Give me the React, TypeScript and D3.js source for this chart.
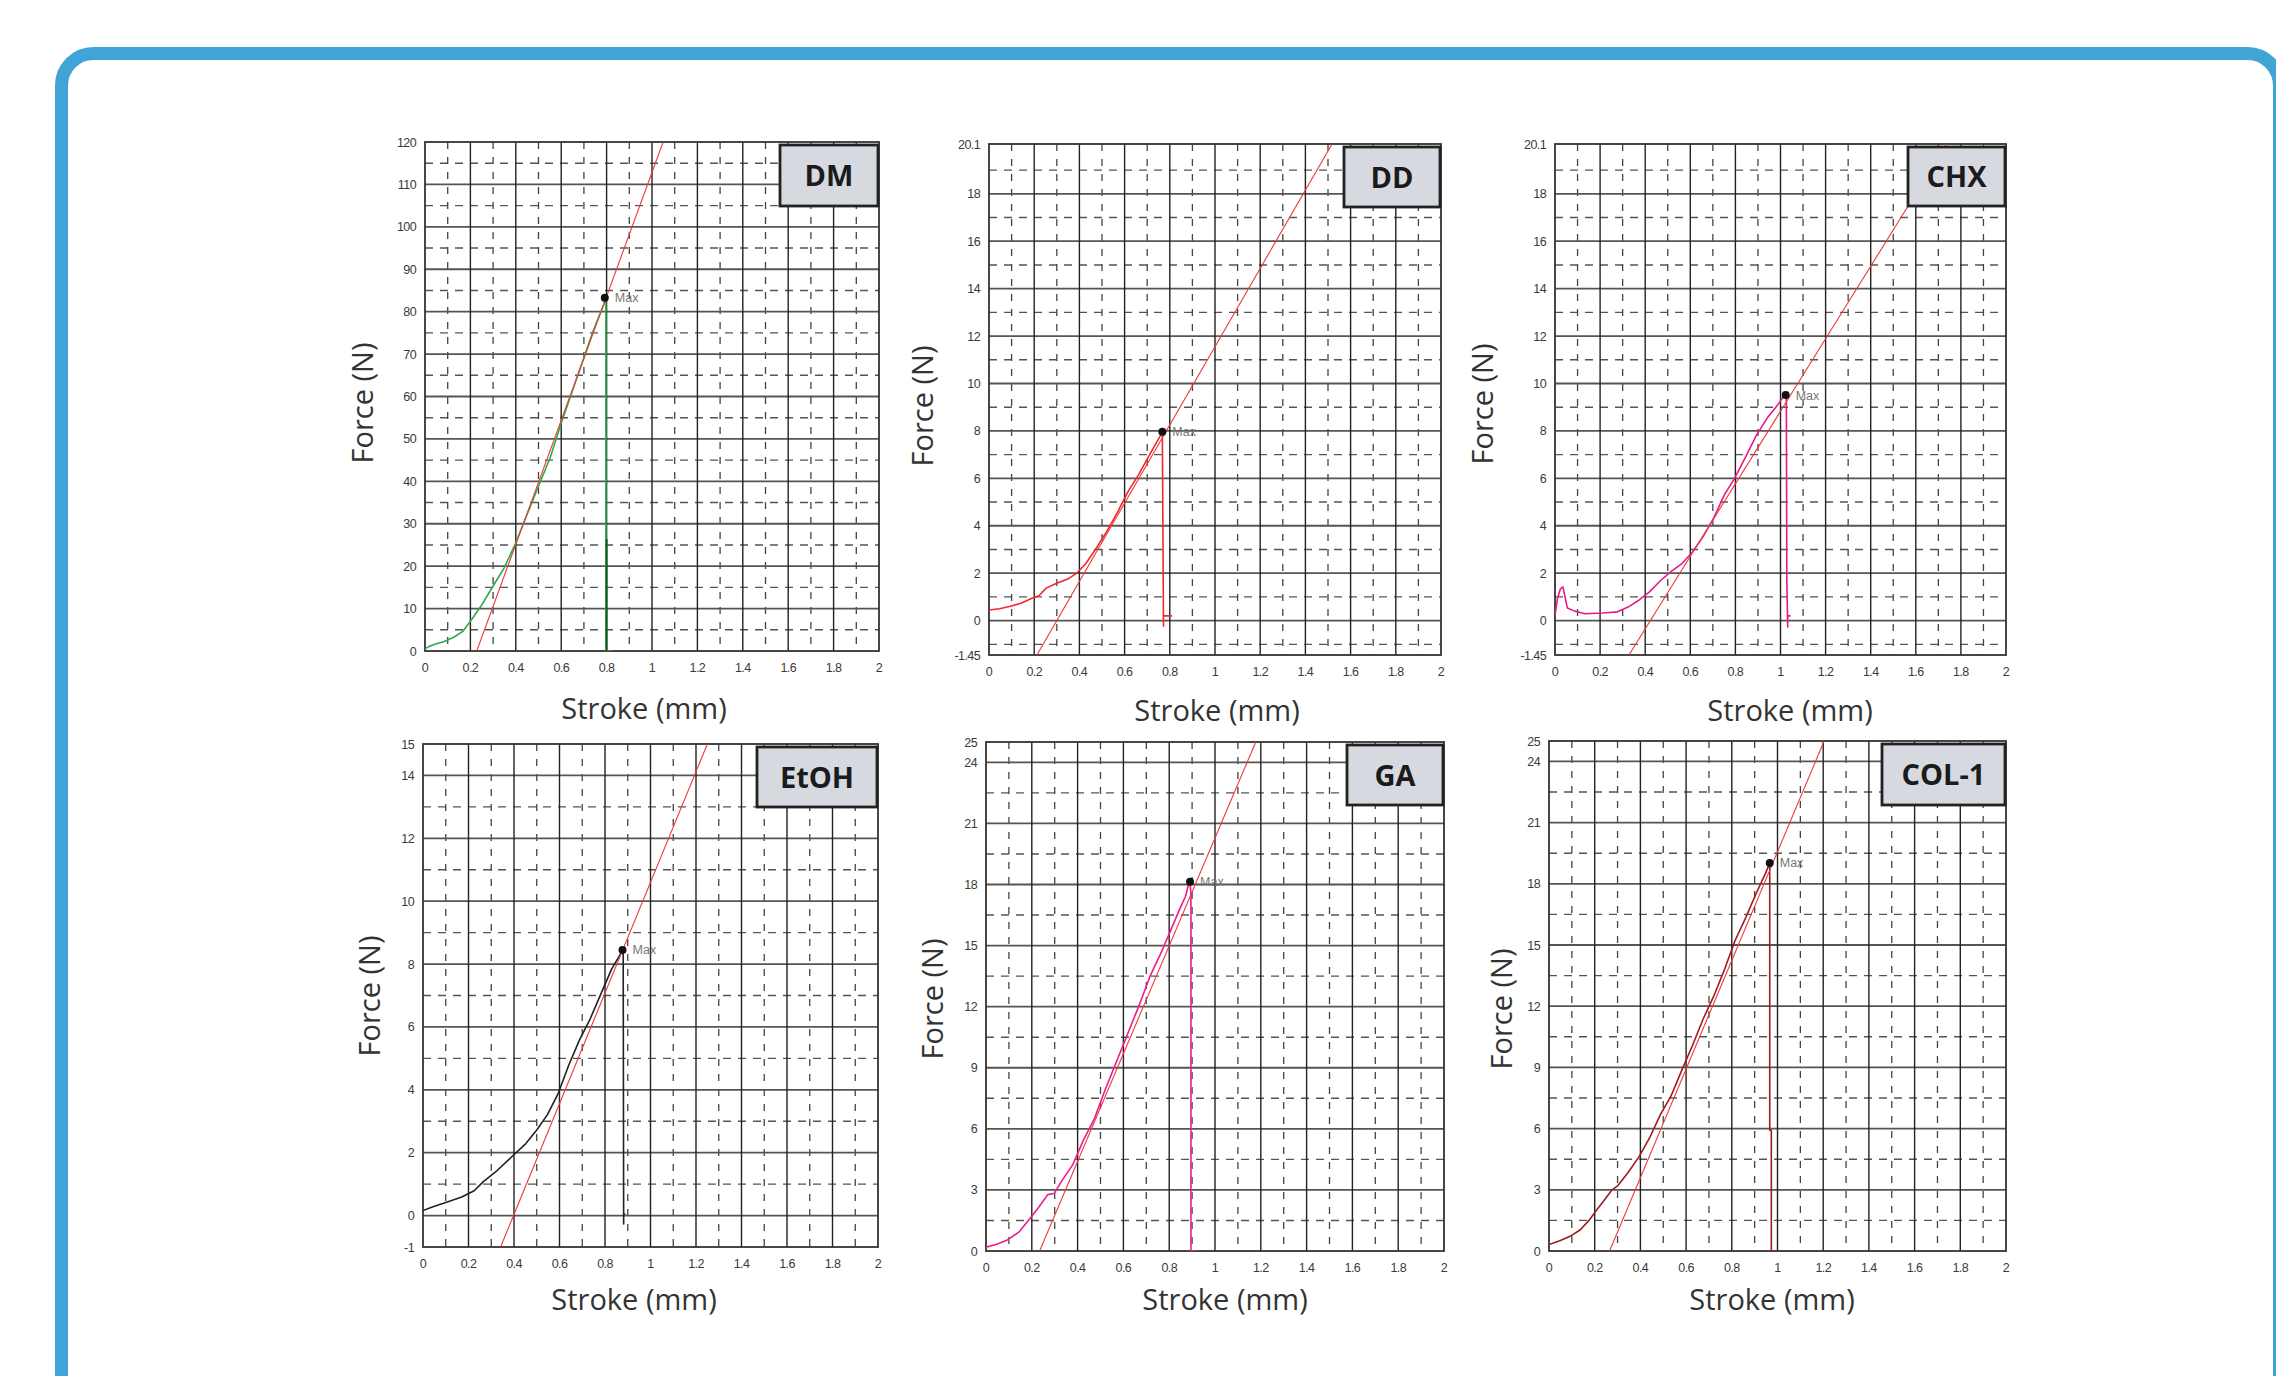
import React, { useEffect, useRef } from "react";
import * as d3 from "d3";

const W = 2276;
const H = 1376;

// stroke axis, the same on all six panels
const xLabels = [0, 0.2, 0.4, 0.6, 0.8, 1, 1.2, 1.4, 1.6, 1.8, 2];
const xMajor = [0.2, 0.4, 0.6, 0.8, 1, 1.2, 1.4, 1.6, 1.8];
const xMinor = [0.1, 0.3, 0.5, 0.7, 0.9, 1.1, 1.3, 1.5, 1.7, 1.9];

// DM
const dmYLabels = [0, 10, 20, 30, 40, 50, 60, 70, 80, 90, 100, 110, 120];
const dmYMajor = [10, 20, 30, 40, 50, 60, 70, 80, 90, 100, 110];
const dmYMinor = [5, 15, 25, 35, 45, 55, 65, 75, 85, 95, 105, 115];
const dmCurve = [
  [0, 0.5], [0.019, 1.1], [0.05, 1.7], [0.082, 2.2], [0.129, 3.3], [0.168, 4.7],
  [0.208, 7.6], [0.247, 10.6], [0.302, 15.5], [0.349, 19.6], [0.396, 25.0],
  [0.443, 31.3], [0.498, 38.6], [0.553, 45.8], [0.601, 53.9], [0.648, 61.1],
  [0.695, 68.4], [0.742, 75.6], [0.789, 81.9], [0.792, 83.3], [0.797, 82],
  [0.797, 0], [0.82, 0],
];
const dmDrop = [[0.8, 26.4], [0.8, 0]];
const dmFit = [[0.228, 0], [1.049, 120]];
const dmMax = [0.792, 83.3];

// DD
const ddYLabels = [-1.45, 0, 2, 4, 6, 8, 10, 12, 14, 16, 18, 20.1];
const ddYMajor = [0, 2, 4, 6, 8, 10, 12, 14, 16, 18];
const ddYMinor = [-1, 1, 3, 5, 7, 9, 11, 13, 15, 17, 19];
const ddCurve = [
  [0, 0.45], [0.047, 0.5], [0.095, 0.61], [0.142, 0.73], [0.19, 0.94],
  [0.221, 1.05], [0.253, 1.37], [0.3, 1.58], [0.348, 1.75], [0.387, 1.99],
  [0.427, 2.39], [0.474, 3.04], [0.522, 3.77], [0.569, 4.58], [0.617, 5.47],
  [0.664, 6.19], [0.711, 7.0], [0.759, 7.81], [0.767, 7.97], [0.772, -0.24],
  [0.772, 0.2], [0.81, 0.2],
];
const ddFit = [[0.212, -1.45], [1.518, 20.1]];
const ddMax = [0.767, 7.97];

// CHX
const chxYLabels = [-1.45, 0, 2, 4, 6, 8, 10, 12, 14, 16, 18, 20.1];
const chxYMajor = [0, 2, 4, 6, 8, 10, 12, 14, 16, 18];
const chxYMinor = [-1, 1, 3, 5, 7, 9, 11, 13, 15, 17, 19];
const chxCurve = [
  [0, 0.21], [0.011, 0.94], [0.024, 1.34], [0.035, 1.42], [0.044, 1.02],
  [0.055, 0.53], [0.087, 0.4], [0.134, 0.29], [0.213, 0.32], [0.277, 0.37],
  [0.324, 0.57], [0.372, 0.86], [0.419, 1.21], [0.466, 1.67], [0.514, 2.07],
  [0.561, 2.39], [0.609, 2.88], [0.656, 3.53], [0.704, 4.33], [0.751, 5.3],
  [0.798, 6.03], [0.846, 6.92], [0.893, 7.81], [0.941, 8.54], [0.988, 9.1],
  [1.012, 9.43], [1.023, 9.51], [1.026, 9.3], [1.028, 1.75], [1.032, -0.27],
  [1.032, 0.2], [1.045, 0.2],
];
const chxFit = [[0.328, -1.45], [1.737, 20.1]];
const chxMax = [1.023, 9.51];

// EtOH
const etohYLabels = [-1, 0, 2, 4, 6, 8, 10, 12, 14, 15];
const etohYMajor = [0, 2, 4, 6, 8, 10, 12, 14];
const etohYMinor = [1, 3, 5, 7, 9, 11, 13];
const etohCurve = [
  [0, 0.16], [0.044, 0.28], [0.107, 0.43], [0.17, 0.59], [0.225, 0.79],
  [0.264, 1.07], [0.327, 1.44], [0.39, 1.87], [0.452, 2.29], [0.5, 2.72],
  [0.547, 3.21], [0.594, 3.88], [0.641, 4.79], [0.688, 5.59], [0.735, 6.26],
  [0.782, 7.05], [0.829, 7.84], [0.869, 8.33], [0.877, 8.45], [0.88, 8.3],
  [0.882, -0.27], [0.882, 0.05], [0.89, 0.05],
];
const etohFit = [[0.341, -1], [1.25, 15]];
const etohMax = [0.877, 8.45];

// GA
const gaYLabels = [0, 3, 6, 9, 12, 15, 18, 21, 24, 25];
const gaYMajor = [3, 6, 9, 12, 15, 18, 21, 24];
const gaYMinor = [1.5, 4.5, 7.5, 10.5, 13.5, 16.5, 19.5, 22.5];
const gaCurve = [
  [0, 0.19], [0.044, 0.32], [0.091, 0.53], [0.145, 0.94], [0.192, 1.6],
  [0.231, 2.16], [0.27, 2.77], [0.297, 2.82], [0.333, 3.48], [0.379, 4.24],
  [0.426, 5.46], [0.473, 6.49], [0.52, 7.91], [0.567, 9.22], [0.621, 10.73],
  [0.668, 12.05], [0.715, 13.46], [0.762, 14.59], [0.809, 15.81], [0.848, 16.85],
  [0.871, 17.41], [0.884, 17.98], [0.891, 18.13], [0.895, 17.5], [0.895, 0],
  [0.92, 0],
];
const gaFit = [[0.234, 0], [1.178, 25]];
const gaMax = [0.891, 18.13];

// COL-1
const colYLabels = [0, 3, 6, 9, 12, 15, 18, 21, 24, 25];
const colYMajor = [3, 6, 9, 12, 15, 18, 21, 24];
const colYMinor = [1.5, 4.5, 7.5, 10.5, 13.5, 16.5, 19.5, 22.5];
const colCurve = [
  [0, 0.32], [0.05, 0.51], [0.097, 0.75], [0.136, 1.03], [0.175, 1.5],
  [0.206, 1.97], [0.245, 2.54], [0.276, 3.0], [0.3, 3.19], [0.346, 3.85],
  [0.393, 4.6], [0.44, 5.54], [0.487, 6.67], [0.534, 7.6], [0.58, 8.83],
  [0.627, 10.05], [0.674, 11.36], [0.721, 12.49], [0.768, 13.8], [0.814, 15.21],
  [0.861, 16.34], [0.908, 17.56], [0.947, 18.5], [0.966, 19.02], [0.966, 18.5],
  [0.966, 5.92], [0.973, 5.92], [0.973, 0], [0.99, 0],
];
const colFit = [[0.265, 0], [1.204, 25]];
const colMax = [0.966, 19.02];

const panels = [
  { name: "DM", color: "#2BAA4C", curve: dmCurve, drop: dmDrop, fit: dmFit, max: dmMax,
    yDomain: [0, 120], yLabels: dmYLabels, yMajor: dmYMajor, yMinor: dmYMinor,
    left: 425, right: 879, top: 142, bottom: 651, boxW: 98, boxH: 61,
    forceX: 363, forceY: 403, strokeX: 644, strokeY: 709 },
  { name: "DD", color: "#EE2A2E", curve: ddCurve, fit: ddFit, max: ddMax,
    yDomain: [-1.45, 20.1], yLabels: ddYLabels, yMajor: ddYMajor, yMinor: ddYMinor,
    left: 989, right: 1441, top: 144, bottom: 655, boxW: 96, boxH: 60,
    forceX: 923, forceY: 406, strokeX: 1217, strokeY: 711 },
  { name: "CHX", color: "#E8198B", curve: chxCurve, fit: chxFit, max: chxMax,
    yDomain: [-1.45, 20.1], yLabels: chxYLabels, yMajor: chxYMajor, yMinor: chxYMinor,
    left: 1555, right: 2006, top: 144, bottom: 655, boxW: 97, boxH: 59,
    forceX: 1483, forceY: 404, strokeX: 1790, strokeY: 711 },
  { name: "EtOH", color: "#222222", curve: etohCurve, fit: etohFit, max: etohMax,
    yDomain: [-1, 15], yLabels: etohYLabels, yMajor: etohYMajor, yMinor: etohYMinor,
    left: 423, right: 878, top: 744, bottom: 1247, boxW: 120, boxH: 60,
    forceX: 370, forceY: 996, strokeX: 634, strokeY: 1300 },
  { name: "GA", color: "#EC1C8E", curve: gaCurve, fit: gaFit, max: gaMax,
    yDomain: [0, 25], yLabels: gaYLabels, yMajor: gaYMajor, yMinor: gaYMinor,
    left: 986, right: 1444, top: 742, bottom: 1251, boxW: 96, boxH: 60,
    forceX: 933, forceY: 999, strokeX: 1225, strokeY: 1300 },
  { name: "COL-1", color: "#9E1B22", curve: colCurve, fit: colFit, max: colMax,
    yDomain: [0, 25], yLabels: colYLabels, yMajor: colYMajor, yMinor: colYMinor,
    left: 1549, right: 2006, top: 741, bottom: 1251, boxW: 123, boxH: 61,
    forceX: 1502, forceY: 1009, strokeX: 1772, strokeY: 1300 },
];

function fmt(v) {
  return String(v);
}

function App() {
  const svgRef = useRef(null);

  useEffect(() => {
    const svg = d3.select(svgRef.current);
    svg.selectAll("*").remove();

    svg.append("rect").attr("width", W).attr("height", H).attr("fill", "#ffffff");

    // blue rounded frame, runs off the bottom of the page
    svg
      .append("rect")
      .attr("x", 61.5)
      .attr("y", 53.5)
      .attr("width", 2218)
      .attr("height", 1600)
      .attr("rx", 32)
      .attr("fill", "none")
      .attr("stroke", "#40A4D6")
      .attr("stroke-width", 13);

    panels.forEach((p, i) => {
      const g = svg.append("g");
      const x = d3.scaleLinear().domain([0, 2]).range([p.left, p.right]);
      const y = d3.scaleLinear().domain(p.yDomain).range([p.bottom, p.top]);

      const clipId = "clip" + i;
      svg
        .append("clipPath")
        .attr("id", clipId)
        .append("rect")
        .attr("x", p.left)
        .attr("y", p.top)
        .attr("width", p.right - p.left)
        .attr("height", p.bottom - p.top);

      // dashed minor grid
      g.append("g")
        .selectAll("line")
        .data(p.yMinor)
        .join("line")
        .attr("x1", p.left)
        .attr("x2", p.right)
        .attr("y1", (d) => y(d))
        .attr("y2", (d) => y(d))
        .attr("stroke", "#555")
        .attr("stroke-width", 1.4)
        .attr("stroke-dasharray", "8,7");
      g.append("g")
        .selectAll("line")
        .data(xMinor)
        .join("line")
        .attr("x1", (d) => x(d))
        .attr("x2", (d) => x(d))
        .attr("y1", p.top)
        .attr("y2", p.bottom)
        .attr("stroke", "#444")
        .attr("stroke-width", 1.3)
        .attr("stroke-dasharray", "7,8");

      // solid major grid
      g.append("g")
        .selectAll("line")
        .data(p.yMajor)
        .join("line")
        .attr("x1", p.left)
        .attr("x2", p.right)
        .attr("y1", (d) => y(d))
        .attr("y2", (d) => y(d))
        .attr("stroke", "#555")
        .attr("stroke-width", 1.8);
      g.append("g")
        .selectAll("line")
        .data(xMajor)
        .join("line")
        .attr("x1", (d) => x(d))
        .attr("x2", (d) => x(d))
        .attr("y1", p.top)
        .attr("y2", p.bottom)
        .attr("stroke", "#222")
        .attr("stroke-width", 1.4);

      g.append("rect")
        .attr("x", p.left)
        .attr("y", p.top)
        .attr("width", p.right - p.left)
        .attr("height", p.bottom - p.top)
        .attr("fill", "none")
        .attr("stroke", "#333")
        .attr("stroke-width", 1.8);

      const line = d3
        .line()
        .x((d) => x(d[0]))
        .y((d) => y(d[1]));

      const plot = g.append("g").attr("clip-path", `url(#${clipId})`);
      plot
        .append("path")
        .attr("d", line(p.curve))
        .attr("fill", "none")
        .attr("stroke", p.color)
        .attr("stroke-width", 1.6)
        .attr("stroke-linejoin", "round");
      if (p.drop) {
        plot
          .append("path")
          .attr("d", line(p.drop))
          .attr("fill", "none")
          .attr("stroke", "#0C5E25")
          .attr("stroke-width", 2);
      }
      plot
        .append("path")
        .attr("d", line(p.fit))
        .attr("fill", "none")
        .attr("stroke", "#EC3A3A")
        .attr("stroke-width", 1.1);

      // max marker
      g.append("circle")
        .attr("cx", x(p.max[0]))
        .attr("cy", y(p.max[1]))
        .attr("r", 4)
        .attr("fill", "#111");
      g.append("text")
        .attr("x", x(p.max[0]) + 10)
        .attr("y", y(p.max[1]) + 4.5)
        .attr("font-family", "Liberation Sans, Arial, sans-serif")
        .attr("font-size", 12.5)
        .attr("fill", "#777")
        .text("Max");

      // sample label box
      g.append("rect")
        .attr("x", p.right - 1 - p.boxW)
        .attr("y", p.top + 3)
        .attr("width", p.boxW)
        .attr("height", p.boxH)
        .attr("fill", "#D6D9E0")
        .attr("stroke", "#222")
        .attr("stroke-width", 2.8);
      g.append("text")
        .attr("x", p.right - 1 - p.boxW / 2)
        .attr("y", p.top + 3 + p.boxH / 2 + 10.5)
        .attr("text-anchor", "middle")
        .attr("font-family", "Open Sans, sans-serif")
        .attr("font-weight", 700)
        .attr("font-size", 29)
        .attr("fill", "#1b1b1b")
        .text(p.name);

      // tick labels
      g.append("g")
        .selectAll("text")
        .data(p.yLabels)
        .join("text")
        .attr("x", p.left - 9)
        .attr("y", (d) => y(d) + 4.5)
        .attr("text-anchor", "end")
        .attr("font-family", "Liberation Sans, Arial, sans-serif")
        .attr("font-size", 12.5)
        .attr("letter-spacing", -0.6)
        .attr("fill", "#3a3a3a")
        .text((d) => fmt(d));
      g.append("g")
        .selectAll("text")
        .data(xLabels)
        .join("text")
        .attr("x", (d) => x(d))
        .attr("y", p.bottom + 21)
        .attr("text-anchor", "middle")
        .attr("font-family", "Liberation Sans, Arial, sans-serif")
        .attr("font-size", 12.5)
        .attr("letter-spacing", -0.6)
        .attr("fill", "#3a3a3a")
        .text((d) => fmt(d));

      // axis titles
      g.append("text")
        .attr("transform", `translate(${p.forceX + 10},${p.forceY}) rotate(-90)`)
        .attr("text-anchor", "middle")
        .attr("font-family", "Open Sans, sans-serif")
        .attr("font-size", 29)
        .attr("fill", "#333")
        .text("Force (N)");
      g.append("text")
        .attr("x", p.strokeX)
        .attr("y", p.strokeY + 10)
        .attr("text-anchor", "middle")
        .attr("font-family", "Open Sans, sans-serif")
        .attr("font-size", 29)
        .attr("fill", "#333")
        .text("Stroke (mm)");
    });
  }, []);

  return (
    <div style={{ position: "fixed", left: 0, top: 0, width: W, height: H, overflow: "hidden" }}>
      <svg ref={svgRef} width={W} height={H} style={{ display: "block" }}></svg>
    </div>
  );
}

export default App;
